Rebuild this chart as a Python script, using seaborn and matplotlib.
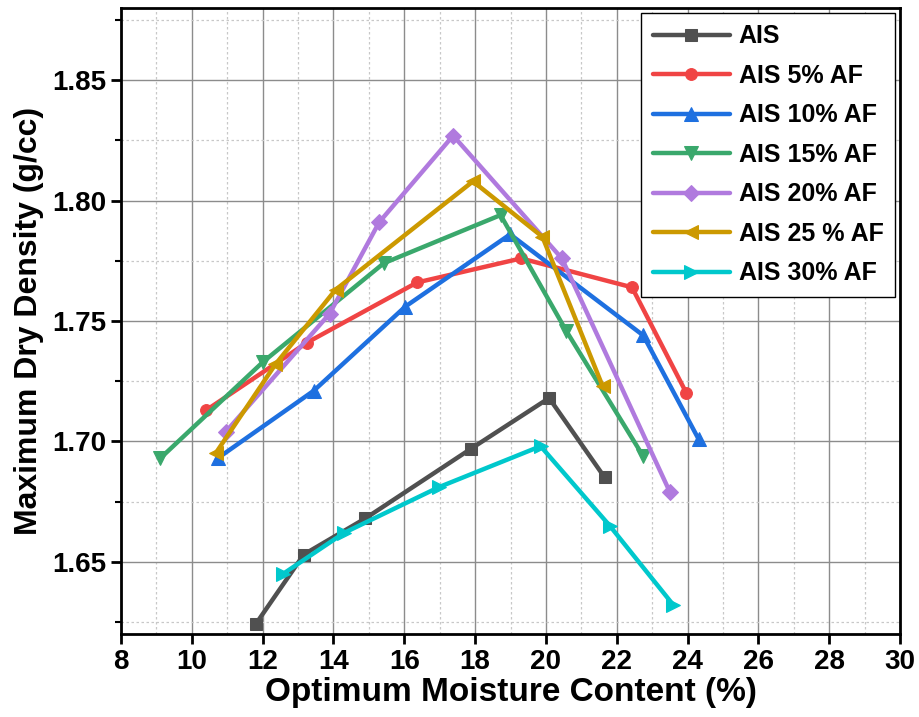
import matplotlib
matplotlib.use("Agg")
import matplotlib.pyplot as plt
from matplotlib.ticker import MultipleLocator
import seaborn as sns

# Compaction results: optimum moisture content (%) vs maximum dry density (g/cc)
labels = ["AIS", "AIS 5% AF", "AIS 10% AF", "AIS 15% AF",
          "AIS 20% AF", "AIS 25 % AF", "AIS 30% AF"]

omc_ais = [11.80, 13.16, 14.90, 17.89, 20.09, 21.66]
mdd_ais = [1.624, 1.653, 1.668, 1.697, 1.718, 1.685]

omc_af5 = [10.41, 13.25, 16.36, 19.30, 22.43, 23.97]
mdd_af5 = [1.713, 1.741, 1.766, 1.776, 1.764, 1.720]

omc_af10 = [10.73, 13.44, 16.03, 18.99, 22.75, 24.31]
mdd_af10 = [1.693, 1.721, 1.756, 1.786, 1.744, 1.701]

omc_af15 = [9.11, 12.01, 15.42, 18.72, 20.57, 22.74]
mdd_af15 = [1.693, 1.733, 1.774, 1.794, 1.746, 1.694]

omc_af20 = [10.96, 13.89, 15.29, 17.38, 20.45, 23.50]
mdd_af20 = [1.704, 1.753, 1.791, 1.827, 1.776, 1.679]

omc_af25 = [10.67, 12.36, 14.06, 17.94, 19.90, 21.60]
mdd_af25 = [1.695, 1.732, 1.763, 1.808, 1.785, 1.723]

omc_af30 = [12.58, 14.30, 16.98, 19.85, 21.80, 23.60]
mdd_af30 = [1.645, 1.662, 1.681, 1.698, 1.665, 1.632]

omc = [omc_ais, omc_af5, omc_af10, omc_af15, omc_af20, omc_af25, omc_af30]
mdd = [mdd_ais, mdd_af5, mdd_af10, mdd_af15, mdd_af20, mdd_af25, mdd_af30]

colors = ["#505050", "#f04444", "#1e70e0", "#3aa86c", "#b07ade", "#cc9900", "#00c8cc"]
markers = ["s", "o", "^", "v", "D", "<", ">"]

sns.set_theme(style="white")
plt.rcParams["font.family"] = ["Liberation Sans", "DejaVu Sans"]
plt.rcParams["text.color"] = "black"
plt.rcParams["axes.labelcolor"] = "black"
plt.rcParams["xtick.color"] = "black"
plt.rcParams["ytick.color"] = "black"

fig = plt.figure(figsize=(9.19, 7.17), dpi=100)
ax = fig.add_axes([0.1317, 0.1158, 0.9793 - 0.1317, 0.9888 - 0.1158])

for x, y, lab, c, m in zip(omc, mdd, labels, colors, markers):
    ms = 8.5 if m in ("s", "o", "D") else 10.5
    sns.lineplot(x=x, y=y, ax=ax, color=c, marker=m, markersize=ms,
                 markeredgecolor=c, linewidth=3.2, sort=False, label=lab,
                 zorder=3)

ax.set_xlim(8, 30)
ax.set_ylim(1.62, 1.88)
ax.xaxis.set_major_locator(MultipleLocator(2))
ax.xaxis.set_minor_locator(MultipleLocator(1))
ax.yaxis.set_major_locator(MultipleLocator(0.05))
ax.yaxis.set_minor_locator(MultipleLocator(0.025))

ax.grid(which="major", color="#8c8c8c", linewidth=1.0, linestyle="-", zorder=0)
ax.grid(which="minor", color="#c8c8c8", linewidth=0.9, linestyle=(0, (2, 2)), zorder=0)
ax.set_axisbelow(True)

for side in ["left", "bottom", "top", "right"]:
    ax.spines[side].set_visible(True)
    ax.spines[side].set_color("black")
    ax.spines[side].set_linewidth(2.0)

ax.tick_params(axis="both", which="major", direction="out", length=7, width=2,
               color="black", labelcolor="black",
               bottom=True, left=True, top=False, right=False)
ax.tick_params(axis="y", which="minor", direction="out", length=4, width=1.5,
               color="black", left=True)
ax.tick_params(axis="x", which="minor", bottom=False)

ax.set_yticks([1.65, 1.70, 1.75, 1.80, 1.85])
ax.set_yticklabels(["1.65", "1.70", "1.75", "1.80", "1.85"],
                   fontsize=20, fontweight="bold")
xt = list(range(8, 31, 2))
ax.set_xticks(xt)
ax.set_xticklabels([str(v) for v in xt], fontsize=20, fontweight="bold")

ax.set_xlabel("Optimum Moisture Content (%)", fontsize=24, fontweight="bold",
              labelpad=2)
ax.set_ylabel("Maximum Dry Density (g/cc)", fontsize=23, fontweight="bold",
              labelpad=6)

leg = ax.legend(loc="upper right", prop={"weight": "bold", "size": 18},
                frameon=True, fancybox=False, edgecolor="black", framealpha=1,
                handlelength=3.1, handletextpad=0.35, labelspacing=0.62,
                borderpad=0.45, borderaxespad=0.2)
leg.get_frame().set_linewidth(1.0)
for t in leg.get_texts():
    t.set_color("black")

fig.savefig("out.png", dpi=100)
